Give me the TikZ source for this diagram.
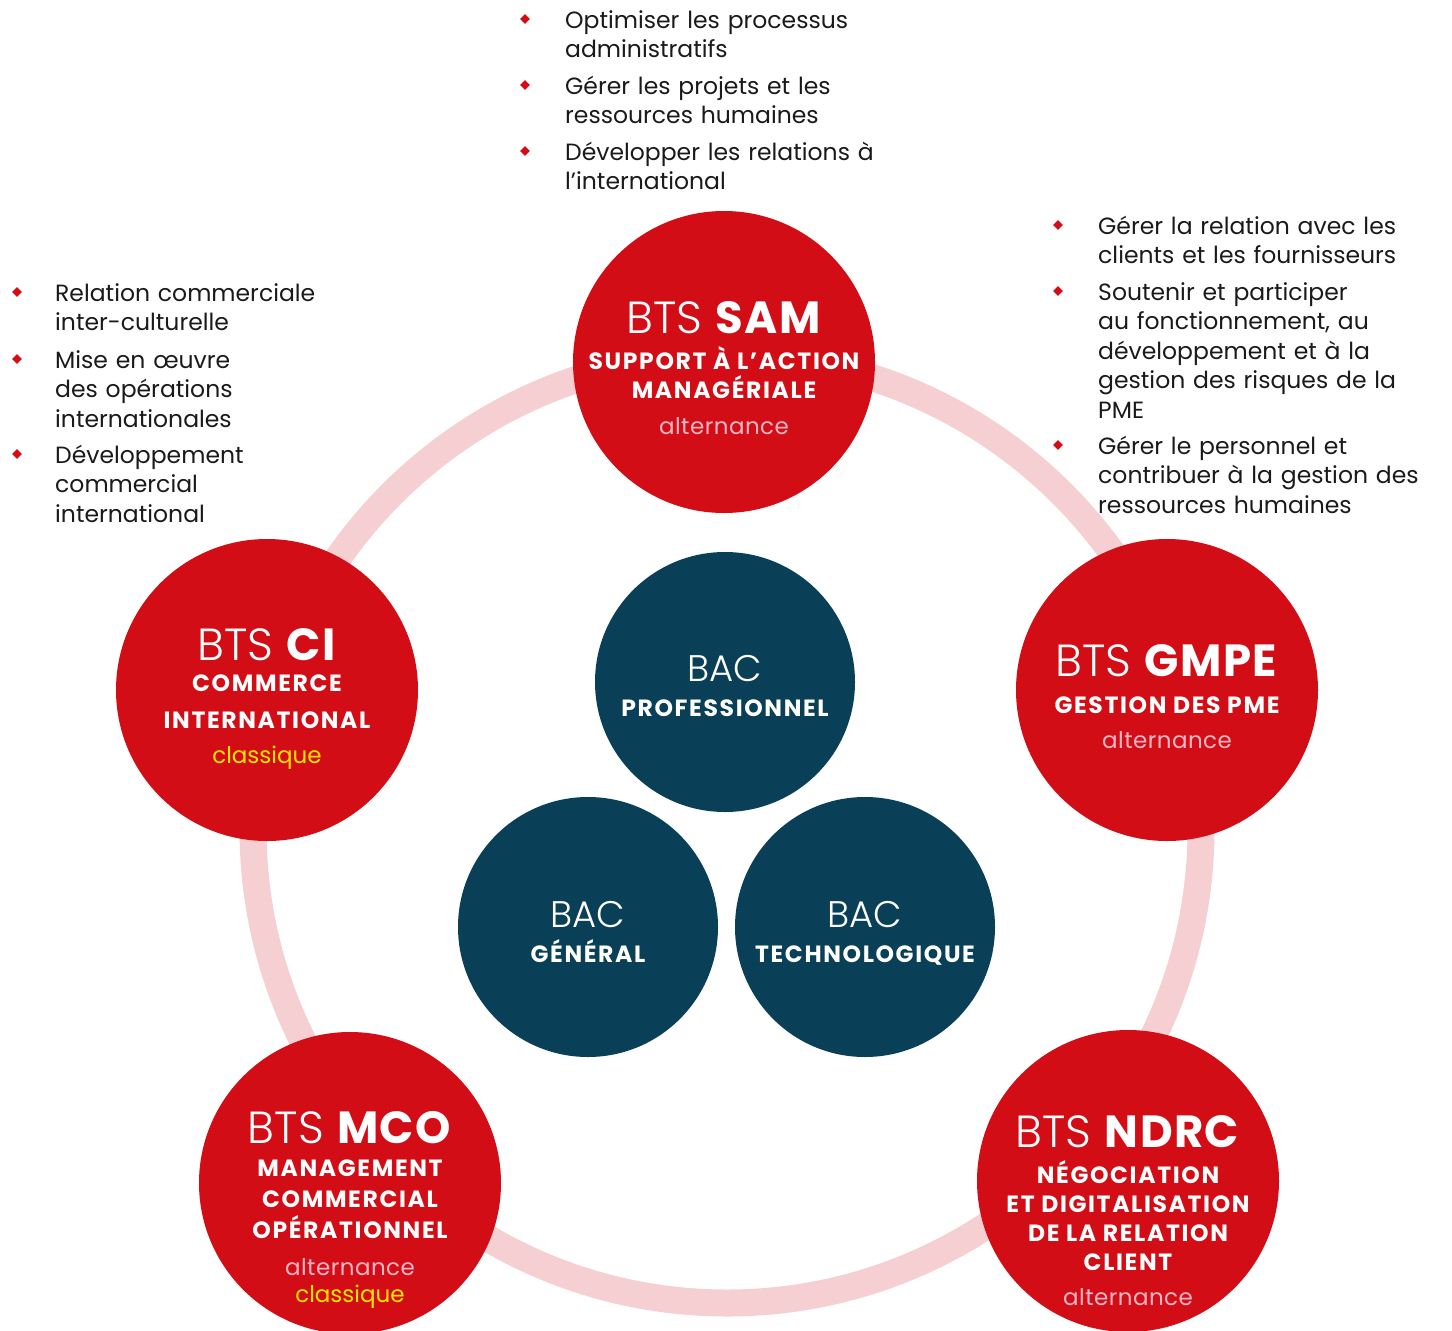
\documentclass[tikz,border=0pt]{standalone}
\usepackage{fontspec}
\setmainfont{Poppins}
\newfontfamily\poplight{Poppins Light}
\usetikzlibrary{shapes.geometric}
\definecolor{btsred}{HTML}{D20D16}
\definecolor{bacblue}{HTML}{0A3F58}
\definecolor{ringpink}{HTML}{F5CFD2}
\definecolor{altpink}{HTML}{F6B6C6}
\definecolor{classyellow}{HTML}{FFE500}
\definecolor{txt}{HTML}{1A1A1A}
\tikzset{
  btscircle/.style={circle, fill=btsred, minimum size=302pt, inner sep=0pt},
  baccircle/.style={circle, fill=bacblue, minimum size=260pt, inner sep=0pt},
  title/.style={anchor=base, inner sep=0pt, text=white, font=\fontsize{45}{45}\selectfont\addfontfeature{LetterSpace=3}},
  sub/.style={anchor=base, inner sep=0pt, text=white, font=\fontsize{23.5}{23.5}\selectfont\bfseries\addfontfeature{LetterSpace=7}},
  alt/.style={anchor=base, inner sep=0pt, text=altpink, font=\fontsize{23}{23}\selectfont\addfontfeature{LetterSpace=2}},
  cla/.style={anchor=base, inner sep=0pt, text=classyellow, font=\fontsize{23}{23}\selectfont},
  bactitle/.style={anchor=base, inner sep=0pt, text=white, font=\fontsize{37}{37}\selectfont\poplight},
  item/.style={anchor=base west, inner sep=0pt, text=txt, text width=400pt, align=left, font=\fontsize{23.5}{29.5}\selectfont},
  bulletmark/.style={diamond, fill=btsred, minimum size=10pt, inner sep=0pt}
}
\begin{document}
\begin{tikzpicture}[x=1pt, y=-1pt]
\useasboundingbox (0,0) rectangle (1452,1331);
% ring
\coordinate (ringc) at (727,829);
\draw[ringpink, line width=27pt] (ringc) circle[radius=474pt];
% BTS circles
\node[btscircle] (sam) at (724,362) {};
\node[btscircle] (ci) at (267,690) {};
\node[btscircle] (gmpe) at (1167,690) {};
\node[btscircle] (mco) at (350,1183) {};
\node[btscircle] (ndrc) at (1128,1181) {};
% BAC circles
\node[baccircle] (bacpro) at (725,682) {};
\node[baccircle] (bacgen) at (588,927) {};
\node[baccircle] (bactech) at (865,927) {};
% SAM text
\node[title] (sam1) at (724,333) {{\poplight BTS} \textbf{SAM}};
\node[sub] (sam2) at (724,369) {SUPPORT À L’ACTION};
\node[sub] (sam3) at (724,398) {MANAGÉRIALE};
\node[alt] (sam4) at (724,434) {alternance};
% CI text
\node[title] (ci1) at (267,660) {{\poplight BTS} \textbf{CI}};
\node[sub] (ci2) at (267,691) {COMMERCE};
\node[sub] (ci3) at (267,728) {INTERNATIONAL};
\node[cla] (ci4) at (267,763) {classique};
% GMPE text
\node[title] (gmpe1) at (1167,676) {{\poplight BTS} \textbf{GMPE}};
\node[sub] (gmpe2) at (1167,713) {GESTION DES PME};
\node[alt] (gmpe3) at (1167,748) {alternance};
% MCO text
\node[title] (mco1) at (350,1143) {{\poplight BTS} \textbf{MCO}};
\node[sub] (mco2) at (350,1176) {MANAGEMENT};
\node[sub] (mco3) at (350,1207) {COMMERCIAL};
\node[sub] (mco4) at (350,1238) {OPÉRATIONNEL};
\node[alt] (mco5) at (350,1275) {alternance};
\node[cla] (mco6) at (350,1302) {classique};
% NDRC text
\node[title] (ndrc1) at (1128,1147) {{\poplight BTS} \textbf{NDRC}};
\node[sub] (ndrc2) at (1128,1183) {NÉGOCIATION};
\node[sub] (ndrc3) at (1128,1212) {ET DIGITALISATION};
\node[sub] (ndrc4) at (1128,1241) {DE LA RELATION};
\node[sub] (ndrc5) at (1128,1270) {CLIENT};
\node[alt] (ndrc6) at (1128,1305) {alternance};
% BAC text
\node[bactitle] (bacpro1) at (725,681) {BAC};
\node[sub] (bacpro2) at (725,716) {PROFESSIONNEL};
\node[bactitle] (bacgen1) at (588,927) {BAC};
\node[sub] (bacgen2) at (588,962) {GÉNÉRAL};
\node[bactitle] (bactech1) at (865,927) {BAC};
\node[sub] (bactech2) at (865,962) {TECHNOLOGIQUE};
% top list (SAM)
\node[bulletmark] (tb1) at (525,19) {};
\node[item] (ti1) at (565,28) {Optimiser les processus\\administratifs};
\node[bulletmark] (tb2) at (525,85) {};
\node[item] (ti2) at (565,94) {Gérer les projets et les\\ressources humaines};
\node[bulletmark] (tb3) at (525,151) {};
\node[item] (ti3) at (565,160) {Développer les relations à\\l’international};
% left list (CI)
\node[bulletmark] (lb1) at (17,292) {};
\node[item] (li1) at (55,301) {Relation commerciale\\inter-culturelle};
\node[bulletmark] (lb2) at (17,359) {};
\node[item] (li2) at (55,368) {Mise en œuvre\\des opérations\\internationales};
\node[bulletmark] (lb3) at (17,454) {};
\node[item] (li3) at (55,463) {Développement\\commercial\\international};
% right list (GMPE)
\node[bulletmark] (rb1) at (1058,225) {};
\node[item] (ri1) at (1098,234) {Gérer la relation avec les\\clients et les fournisseurs};
\node[bulletmark] (rb2) at (1058,291) {};
\node[item] (ri2) at (1098,300) {Soutenir et participer\\au fonctionnement, au\\développement et à la\\gestion des risques de la\\PME};
\node[bulletmark] (rb3) at (1058,445) {};
\node[item] (ri3) at (1098,454) {Gérer le personnel et\\contribuer à la gestion des\\ressources humaines};
\end{tikzpicture}
\end{document}
